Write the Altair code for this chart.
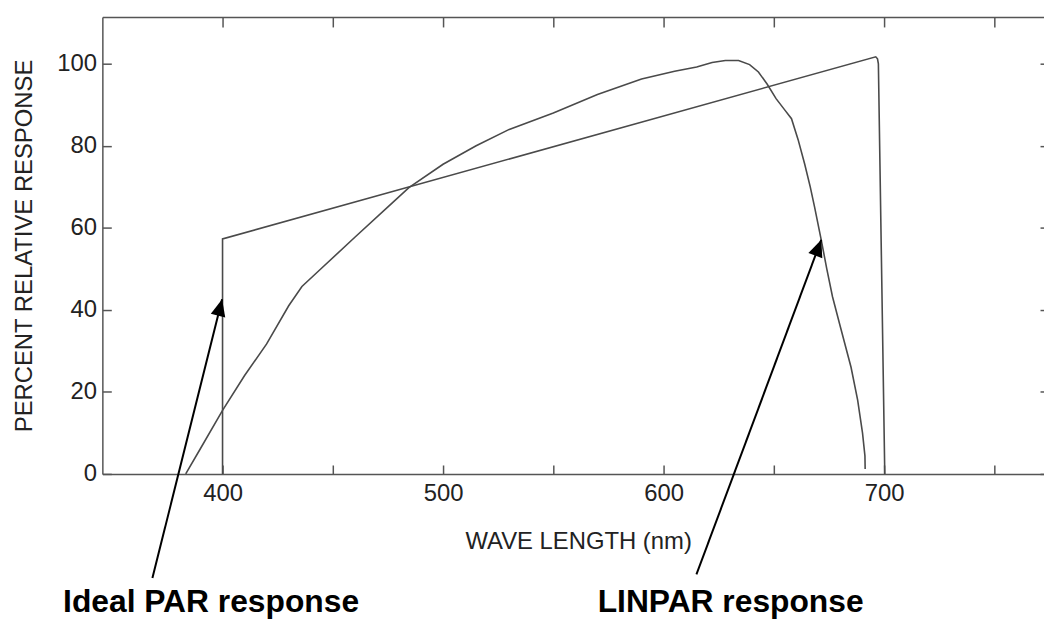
import altair as alt
import pandas as pd

# ---- data ----
ideal_wl = [400.0, 400.0, 696.2, 697.0, 697.4, 700.3]
ideal_val = [0.0, 57.3, 101.7, 101.2, 100.0, 0.0]

lin_wl = [383.3, 390, 400, 410, 420, 430, 436, 445, 460, 475, 484.5, 500, 515, 530,
          550, 570, 590, 605, 615, 622, 628, 634, 639, 643, 647, 651, 655, 658, 661,
          664, 666.5, 668.5, 671.5, 674, 676.6, 680, 685, 688, 690.2, 691.3, 691.4]
lin_val = [0.0, 6.2, 15.5, 24.0, 31.7, 41.0, 45.7, 50.2, 57.7, 65.1, 69.8, 75.5, 80.0, 84.0,
           88.0, 92.5, 96.3, 98.2, 99.2, 100.3, 100.8, 100.8, 99.8, 98.0, 95.0, 91.5, 88.7, 86.6, 81.5,
           75.5, 70.0, 65.0, 57.0, 50.0, 43.2, 36.2, 26.0, 18.0, 10.0, 4.4, 1.2]

arrow_names = ["Ideal PAR response", "LINPAR response"]
arrow_tail_x = [368.2, 614.9]
arrow_tail_y = [-25.4, -24.5]
arrow_tip_x = [399.8, 671.5]
arrow_tip_y = [42.6, 57.1]
arrow_angle = [14.0, 20.5]
label_x = [394.8, 630.4]
label_y = [-33.7, -33.7]

x_ticks = [400, 450, 500, 550, 600, 650, 700, 750]
y_ticks = [0, 20, 40, 60, 80, 100]

# ---- tables ----
ideal_df = pd.DataFrame({"wl": ideal_wl, "val": ideal_val, "i": range(len(ideal_wl))})
lin_df = pd.DataFrame({"wl": lin_wl, "val": lin_val, "i": range(len(lin_wl))})
arrow_df = pd.DataFrame({"name": arrow_names, "tx": arrow_tail_x, "ty": arrow_tail_y,
                         "hx": arrow_tip_x, "hy": arrow_tip_y, "ang": arrow_angle,
                         "lx": label_x, "ly": label_y})

xs = alt.Scale(domain=[345.5, 772.5], nice=False, zero=False)
ys = alt.Scale(domain=[0, 111.4], nice=False, zero=False)

FONT = "Liberation Sans"
AX = "#555555"
LINE = "#4a4a4a"

common_axis = dict(grid=False, tickColor=AX, tickWidth=1.5, domainColor=AX, domainWidth=1.5,
                   labelFont=FONT, labelFontSize=24, labelColor="#222222",
                   titleFont=FONT, titleFontSize=24, titleFontWeight="normal", titleColor="#222222",
                   labelOverlap=False, labelFlush=False)

x_main = alt.Axis(orient="bottom", offset=-9, domain=False, tickSize=9, values=x_ticks,
                  labelExpr="datum.value % 100 === 0 ? datum.label : ''", format="d",
                  labelPadding=8, title="WAVE LENGTH (nm)", titleX=479, titleY=84.5,
                  titleBaseline="alphabetic", titleAlign="center", **common_axis)
y_main = alt.Axis(orient="left", offset=-9, domain=False, tickSize=9, values=y_ticks, format="d",
                  labelPadding=6, title="PERCENT RELATIVE RESPONSE", titleX=-80.3, titleY=230,
                  titleAngle=270, titleBaseline="alphabetic", titleAlign="center", **common_axis)
x_top = alt.Axis(orient="top", offset=-10, domain=False, tickSize=10, values=x_ticks,
                 labels=False, title=None, **common_axis)
y_right = alt.Axis(orient="right", offset=-4, domain=False, tickSize=4, values=y_ticks,
                   labels=False, title=None, **common_axis)
x_dom_bottom = alt.Axis(orient="bottom", offset=0, domain=True, ticks=False, labels=False,
                        title=None, **common_axis)
y_dom_left = alt.Axis(orient="left", offset=0, domain=True, ticks=False, labels=False,
                      title=None, **common_axis)
x_dom_top = alt.Axis(orient="top", offset=0, domain=True, ticks=False, labels=False,
                     title=None, **common_axis)

ideal = alt.Chart(ideal_df).mark_line(color=LINE, strokeWidth=1.6).encode(
    x=alt.X("wl:Q", scale=xs, axis=x_main),
    y=alt.Y("val:Q", scale=ys, axis=y_main),
    order="i:Q",
)

linpar = alt.Chart(lin_df).mark_line(color=LINE, strokeWidth=1.6).encode(
    x=alt.X("wl:Q", scale=xs, axis=x_top),
    y=alt.Y("val:Q", scale=ys, axis=y_right),
    order="i:Q",
)

arrows = alt.Chart(arrow_df).mark_rule(color="black", strokeWidth=2, clip=False).encode(
    x=alt.X("tx:Q", scale=xs, axis=x_dom_bottom),
    y=alt.Y("ty:Q", scale=ys, axis=y_dom_left),
    x2="hx:Q",
    y2="hy:Q",
)

heads = alt.Chart(arrow_df).mark_point(
    shape="M0,0L-0.44,1L0.44,1Z", filled=True, color="black", opacity=1, size=1156,
    strokeWidth=0, clip=False,
).encode(
    x=alt.X("hx:Q", scale=xs, axis=x_dom_top),
    y=alt.Y("hy:Q", scale=ys, axis=None),
    angle=alt.Angle("ang:Q", scale=None),
)

labels = alt.Chart(arrow_df).mark_text(
    font=FONT, fontSize=32, fontWeight="bold", color="black", align="center",
    baseline="alphabetic", clip=False,
).encode(
    x=alt.X("lx:Q", scale=xs, axis=None),
    y=alt.Y("ly:Q", scale=ys, axis=None),
    text="name:N",
)

chart = alt.layer(ideal, linpar, arrows, heads, labels).resolve_axis(
    x="independent", y="independent"
).properties(
    width=948, height=460,
    padding={"left": 95, "top": 7, "right": 0, "bottom": 147},
    autosize=alt.AutoSizeParams(type="none"),
    background="white",
).configure_view(stroke=None)

chart.save("out.html", embed_options={"renderer": "svg", "actions": False})
